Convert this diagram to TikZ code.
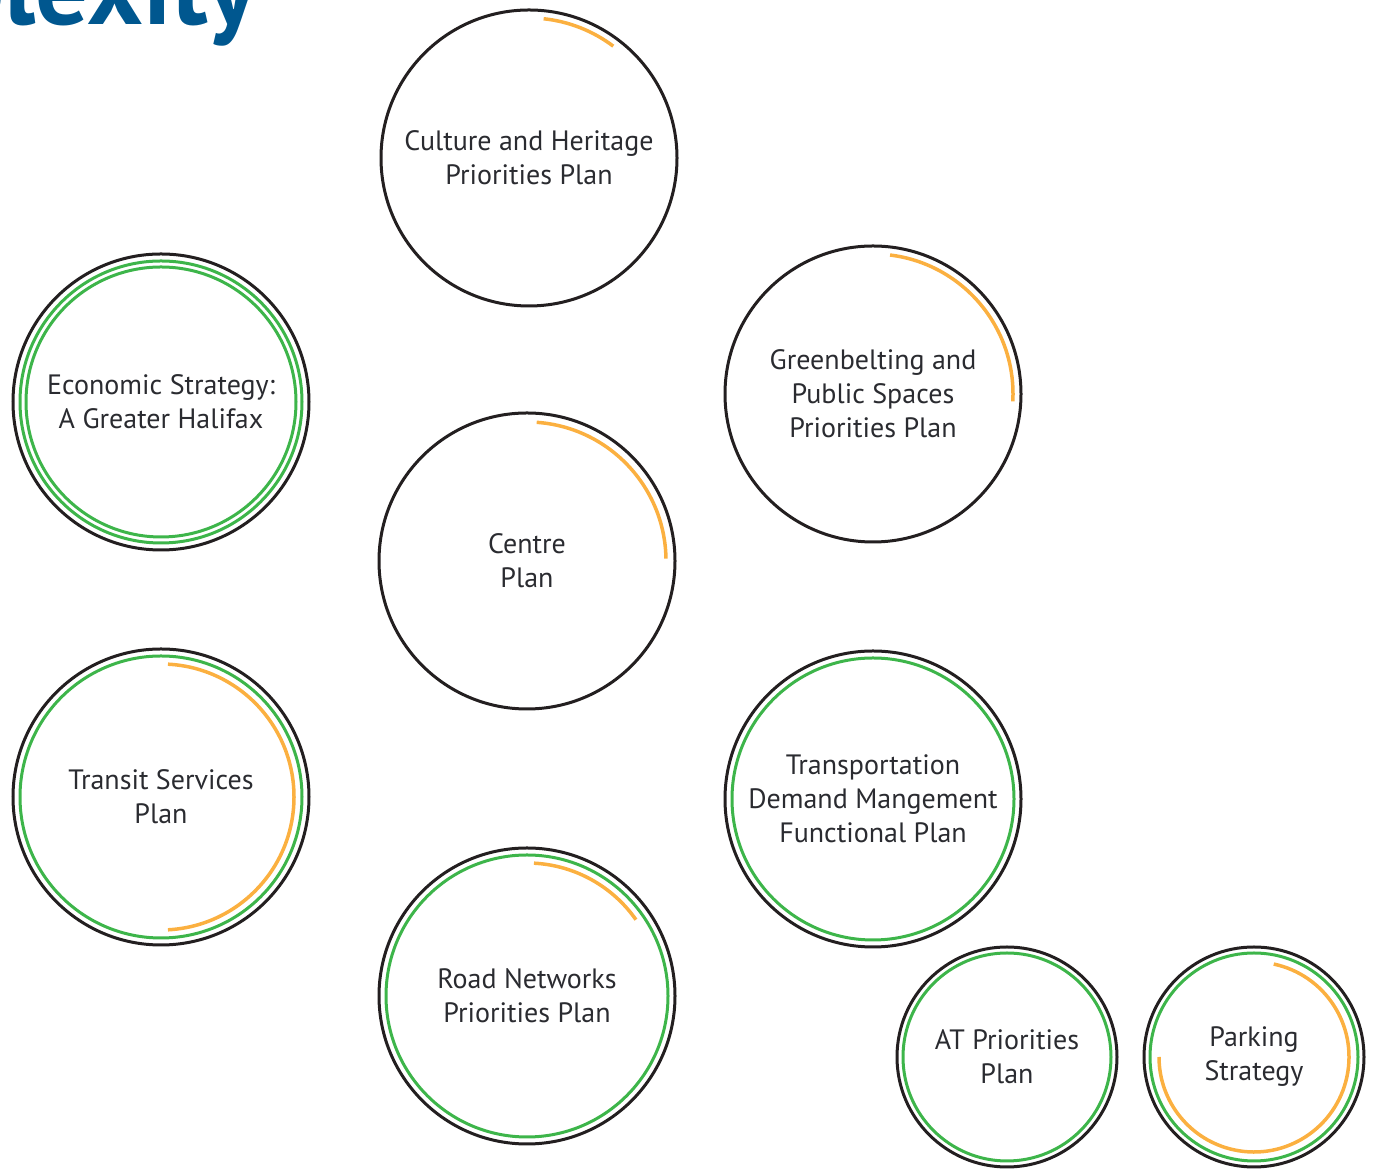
\documentclass[tikz,border=0pt]{standalone}
\usepackage{fontspec}
\setmainfont{PT Sans}
\definecolor{ringblack}{HTML}{231F20}
\definecolor{ringgreen}{HTML}{3DB54A}
\definecolor{ringorange}{HTML}{FBB040}
\definecolor{txtgrey}{HTML}{2A2B30}
\definecolor{titleblue}{HTML}{00578F}
\begin{document}
\begin{tikzpicture}[x=1pt,y=1pt,
  plan/.style={circle, draw=ringblack, line width=3pt, inner sep=0pt, text=txtgrey,
    align=center, font=\fontsize{28}{34}\selectfont},
  big/.style={plan, minimum size=296pt},
  small/.style={plan, minimum size=220pt},
  greenring/.style={draw=ringgreen, line width=3pt},
  orangearc/.style={draw=ringorange, line width=3.5pt}]
\useasboundingbox (0,0) rectangle (1377,1169);
\clip (0,0) rectangle (1377,1169);
\node[anchor=base east, inner sep=0pt, text=titleblue,
  font=\fontsize{106}{106}\selectfont\bfseries] (title) at (257,1144) {Complexity};

\node[big] (cult) at (529,1011) {Culture and Heritage\\Priorities Plan};
\node[big] (econ) at (161,767) {Economic Strategy:\\A Greater Halifax};
\node[big] (green) at (873,775) {Greenbelting and\\Public Spaces\\Priorities Plan};
\node[big] (centre) at (527,608) {Centre\\Plan};
\node[big] (transit) at (161,372) {Transit Services\\Plan};
\node[big] (tdm) at (873,370) {Transportation\\Demand Mangement\\Functional Plan};
\node[big] (road) at (527,173) {Road Networks\\Priorities Plan};
\node[small] (at) at (1007,112) {AT Priorities\\Plan};
\node[small] (park) at (1254,112) {Parking\\Strategy};

% green rings
\draw[greenring] (econ.center) circle[radius=141pt];
\draw[greenring] (econ.center) circle[radius=135pt];
\draw[greenring] (transit.center) circle[radius=141pt];
\draw[greenring] (tdm.center) circle[radius=141pt];
\draw[greenring] (road.center) circle[radius=141pt];
\draw[greenring] (at.center) circle[radius=104pt];
\draw[greenring] (park.center) circle[radius=104pt];

% orange arcs
\draw[orangearc] ([shift={(84:140pt)}]cult.center) arc[start angle=84,end angle=53,radius=140pt];
\draw[orangearc] ([shift={(83:140pt)}]green.center) arc[start angle=83,end angle=-3,radius=140pt];
\draw[orangearc] ([shift={(86:139pt)}]centre.center) arc[start angle=86,end angle=1,radius=139pt];
\draw[orangearc] ([shift={(87:133pt)}]transit.center) arc[start angle=87,end angle=-87,radius=133pt];
\draw[orangearc] ([shift={(87:133pt)}]road.center) arc[start angle=87,end angle=35,radius=133pt];
\draw[orangearc] ([shift={(78:95pt)}]park.center) arc[start angle=78,end angle=-180,radius=95pt];
\end{tikzpicture}
\end{document}
